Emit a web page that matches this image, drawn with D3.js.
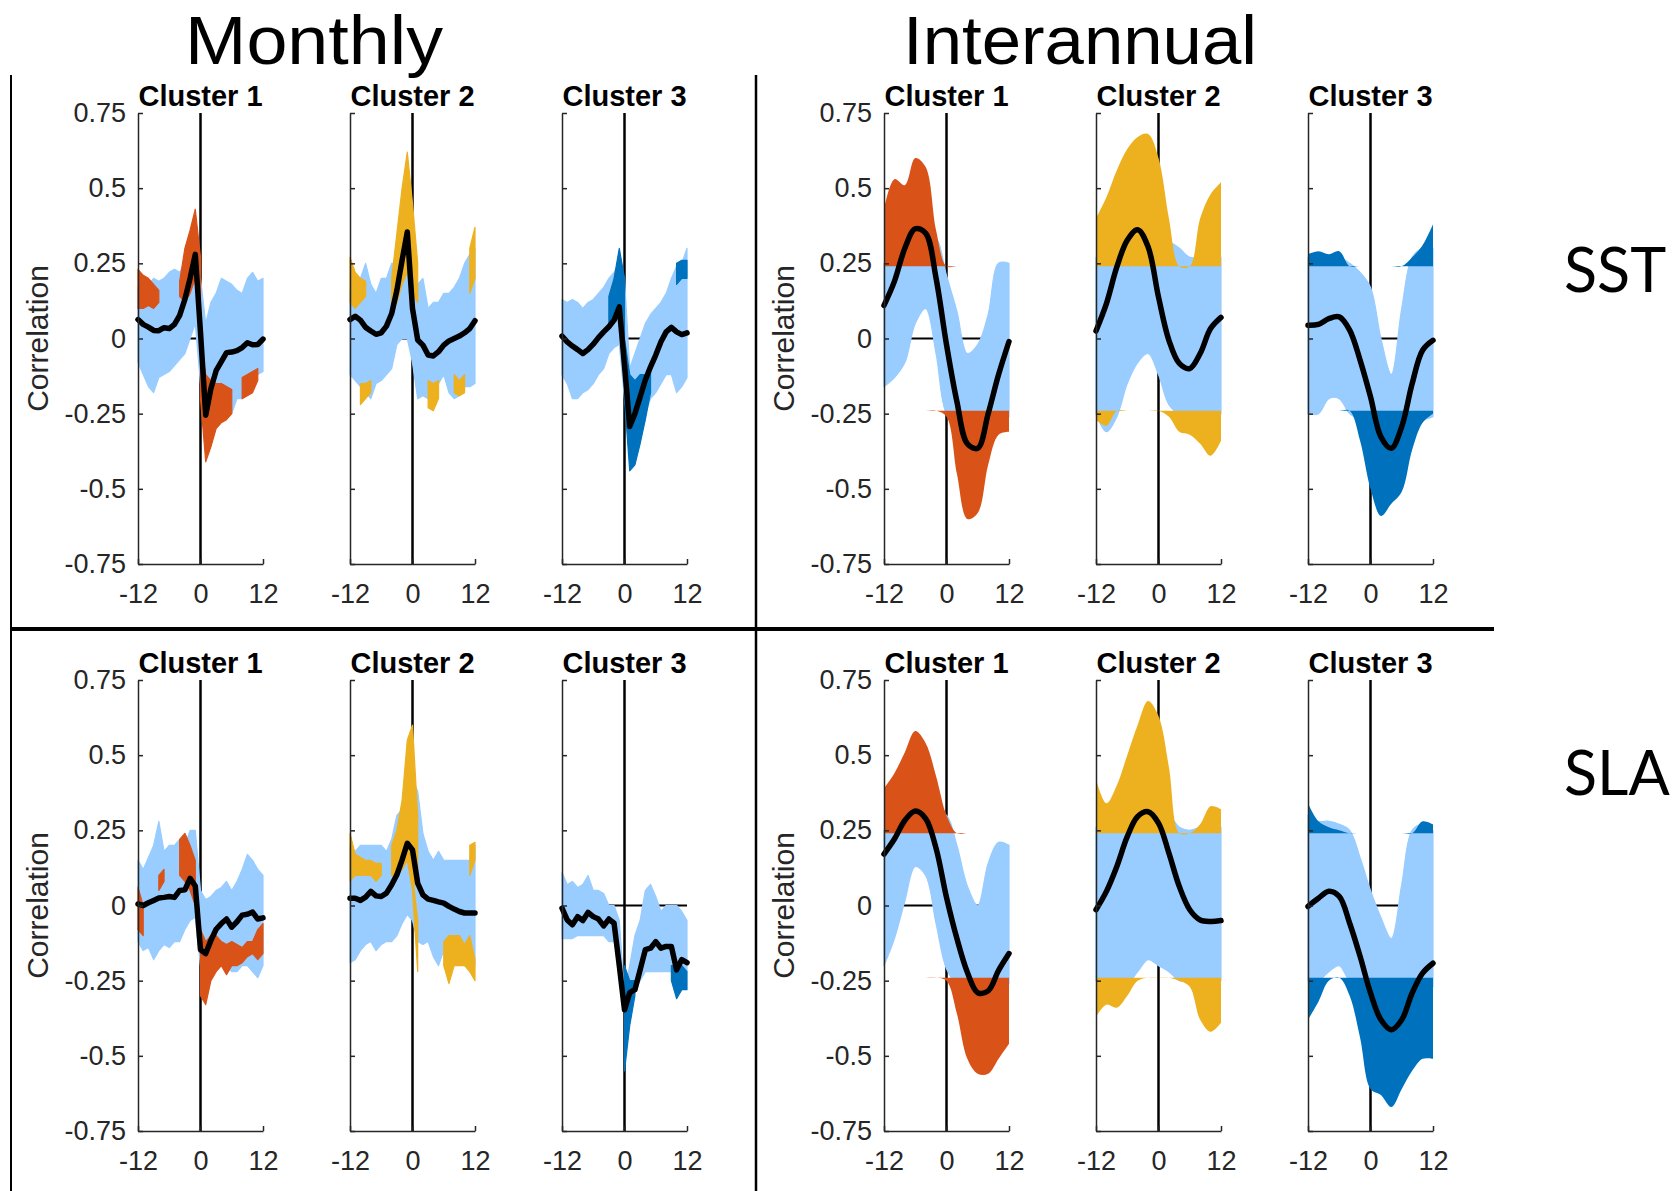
<!DOCTYPE html>
<html>
<head>
<meta charset="utf-8">
<script src="https://cdn.jsdelivr.net/npm/d3@7"></script>
<style>
  body { margin: 0; background: #fff; }
  svg { display: block; }
</style>
</head>
<body>
<svg id="fig" width="1677" height="1191"></svg>
<script>
// ---- axis values / labels ----
const lagsMonthly = [-12,-11,-10,-9,-8,-7,-6,-5,-4,-3,-2,-1,0,1,2,3,4,5,6,7,8,9,10,11,12];
const lagsInter = [-12,-10,-8,-6,-4,-2,0,2,4,6,8,10,12];
const yTicks = [-0.75,-0.5,-0.25,0,0.25,0.5,0.75];
const xTicks = [-12,0,12];
const clusterNames = ["Cluster 1","Cluster 2","Cluster 3"];
const columnTitles = ["Monthly","Interannual"];
const rowNames = ["SST","SLA"];
const clusterColors = ["#D95319","#EDB120","#0072BD"];
const otherColor = "#99CCFF";

// significance bounds used by the interannual panels
const interSigHi = [0.24,0.24,0.24,0.24,0.24,0.24,0.24,0.24,0.24,0.24,0.24,0.24,0.24];
const interSigLo = [-0.24,-0.24,-0.24,-0.24,-0.24,-0.24,-0.24,-0.24,-0.24,-0.24,-0.24,-0.24,-0.24];

// ---- Monthly SST ----
const mSst1Mean = [0.063,0.047,0.038,0.027,0.026,0.036,0.033,0.047,0.077,0.13,0.2,0.28,0.02,-0.255,-0.166,-0.107,-0.077,-0.047,-0.045,-0.04,-0.03,-0.014,-0.021,-0.02,-0.002];
const mSst1BlueHi = [0.17,0.19,0.18,0.2,0.19,0.2,0.22,0.23,0.22,0.25,0.27,0.3,0.2,0.05,0.12,0.15,0.2,0.19,0.18,0.16,0.15,0.2,0.22,0.19,0.2];
const mSst1BlueLo = [-0.08,-0.12,-0.16,-0.18,-0.13,-0.12,-0.11,-0.09,-0.07,-0.05,0.0,0.05,-0.15,-0.28,-0.27,-0.23,-0.21,-0.22,-0.25,-0.2,-0.2,-0.17,-0.14,-0.12,-0.11];
const mSst1PosHi = [0.23,0.21,0.2,0.18,0.16,null,null,null,0.19,0.3,0.36,0.43,0.27,null,null,null,null,null,null,null,null,null,null,null,null];
const mSst1PosLo = [0.1,0.1,0.11,0.1,0.12,null,null,null,0.14,0.12,0.15,0.2,0.0,null,null,null,null,null,null,null,null,null,null,null,null];
const mSst1NegHi = [null,null,null,null,null,null,null,null,null,null,null,null,0.0,-0.12,-0.14,-0.15,-0.15,-0.16,-0.17,null,-0.13,-0.12,-0.11,-0.1,null];
const mSst1NegLo = [null,null,null,null,null,null,null,null,null,null,null,null,-0.2,-0.41,-0.36,-0.3,-0.28,-0.27,-0.25,null,-0.2,-0.19,-0.18,-0.14,null];

const mSst2Mean = [0.063,0.074,0.061,0.037,0.025,0.014,0.019,0.041,0.083,0.16,0.26,0.354,0.1,-0.005,-0.022,-0.055,-0.058,-0.044,-0.022,-0.008,0.0,0.008,0.019,0.033,0.059];
const mSst2BlueHi = [0.16,0.18,0.2,0.25,0.18,0.15,0.2,0.2,0.25,0.25,0.28,0.3,0.22,0.18,0.2,0.1,0.12,0.12,0.15,0.15,0.17,0.2,0.25,0.28,0.3];
const mSst2BlueLo = [-0.12,-0.14,-0.16,-0.18,-0.2,-0.15,-0.14,-0.12,-0.1,-0.02,0.0,0.0,-0.08,-0.2,-0.19,-0.2,-0.19,-0.15,-0.12,-0.18,-0.2,-0.19,-0.16,-0.16,-0.15];
const mSst2PosHi = [0.27,0.22,0.2,0.19,null,null,null,null,0.2,0.35,0.5,0.62,0.45,0.25,null,null,null,null,null,null,null,null,null,0.3,0.37];
const mSst2PosLo = [0.12,0.1,0.12,0.14,null,null,null,null,0.1,0.12,0.18,0.22,0.15,0.12,null,null,null,null,null,null,null,null,null,0.15,0.2];
const mSst2NegHi = [null,null,-0.15,-0.15,-0.14,null,null,null,null,null,null,null,null,null,null,-0.14,-0.15,-0.14,null,null,-0.12,-0.14,-0.12,null,null];
const mSst2NegLo = [null,null,-0.22,-0.2,-0.18,null,null,null,null,null,null,null,null,null,null,-0.23,-0.24,-0.2,null,null,-0.18,-0.19,-0.18,null,null];

const mSst3Mean = [0.008,-0.011,-0.025,-0.037,-0.05,-0.037,-0.019,0.003,0.022,0.039,0.061,0.105,-0.09,-0.293,-0.25,-0.194,-0.138,-0.094,-0.055,-0.011,0.022,0.037,0.022,0.013,0.019];
const mSst3BlueHi = [0.13,0.12,0.13,0.12,0.1,0.12,0.13,0.15,0.17,0.2,0.22,0.25,0.2,-0.1,-0.05,0.0,0.05,0.08,0.1,0.12,0.15,0.2,0.24,0.25,0.3];
const mSst3BlueLo = [-0.12,-0.15,-0.2,-0.2,-0.18,-0.17,-0.15,-0.12,-0.1,-0.05,-0.03,-0.02,-0.2,-0.3,-0.35,-0.3,-0.25,-0.2,-0.18,-0.15,-0.12,-0.12,-0.18,-0.16,-0.13];
const mSst3PosHi = [null,null,null,null,null,null,null,null,null,0.14,0.2,0.3,0.2,null,null,null,null,null,null,null,null,null,0.25,0.26,0.26];
const mSst3PosLo = [null,null,null,null,null,null,null,null,null,0.05,0.07,0.1,0.0,null,null,null,null,null,null,null,null,null,0.18,0.2,0.2];
const mSst3NegHi = [null,null,null,null,null,null,null,null,null,null,null,null,0.0,-0.12,-0.14,-0.12,-0.12,-0.1,null,null,null,null,null,null,null];
const mSst3NegLo = [null,null,null,null,null,null,null,null,null,null,null,null,-0.2,-0.44,-0.42,-0.35,-0.27,-0.18,null,null,null,null,null,null,null];

// ---- Monthly SLA ----
const mSla1Mean = [0.005,0.0,0.009,0.017,0.025,0.027,0.03,0.027,0.05,0.052,0.09,0.065,-0.147,-0.16,-0.116,-0.079,-0.06,-0.045,-0.072,-0.054,-0.032,-0.029,-0.022,-0.045,-0.041];
const mSla1BlueHi = [0.15,0.12,0.16,0.2,0.28,0.18,0.2,0.2,0.22,0.2,0.25,0.25,0.05,0.02,0.03,0.05,0.06,0.08,0.05,0.08,0.12,0.17,0.15,0.12,0.1];
const mSla1BlueLo = [-0.12,-0.15,-0.14,-0.18,-0.15,-0.13,-0.14,-0.12,-0.12,-0.08,-0.05,-0.04,-0.2,-0.22,-0.2,-0.2,-0.2,-0.2,-0.22,-0.22,-0.2,-0.2,-0.22,-0.24,-0.2];
const mSla1PosHi = [0.06,0.0,null,null,0.1,0.12,null,null,0.22,0.24,0.2,0.15,null,null,null,null,null,null,null,null,null,null,null,null,null];
const mSla1PosLo = [-0.08,-0.1,null,null,0.05,0.08,null,null,0.1,0.08,0.05,0.0,null,null,null,null,null,null,null,null,null,null,null,null,null];
const mSla1NegHi = [null,null,null,null,null,null,null,null,null,null,null,null,-0.08,-0.12,-0.1,-0.1,-0.12,-0.13,-0.12,-0.13,-0.14,-0.12,-0.12,-0.08,-0.06];
const mSla1NegLo = [null,null,null,null,null,null,null,null,null,null,null,null,-0.3,-0.33,-0.25,-0.22,-0.2,-0.23,-0.2,-0.2,-0.19,-0.17,-0.16,-0.18,-0.16];

const mSla2Mean = [0.024,0.024,0.017,0.028,0.047,0.032,0.03,0.041,0.069,0.102,0.152,0.207,0.185,0.074,0.035,0.021,0.017,0.012,0.008,-0.003,-0.012,-0.02,-0.025,-0.025,-0.025];
const mSla2BlueHi = [0.2,0.18,0.2,0.2,0.2,0.2,0.2,0.18,0.22,0.3,0.32,0.4,0.42,0.38,0.24,0.18,0.15,0.18,0.15,0.15,0.15,0.15,0.15,0.15,0.2];
const mSla2BlueLo = [-0.19,-0.18,-0.15,-0.13,-0.12,-0.15,-0.13,-0.12,-0.12,-0.1,-0.06,-0.03,-0.05,-0.12,-0.13,-0.12,-0.17,-0.2,-0.15,-0.17,-0.15,-0.18,-0.2,-0.2,-0.2];
const mSla2PosHi = [0.24,0.17,0.16,0.15,0.15,0.14,0.14,null,0.2,0.25,0.35,0.55,0.6,0.3,null,null,null,null,null,null,null,null,null,0.2,0.21];
const mSla2PosLo = [0.08,0.1,0.1,0.1,0.1,0.08,0.1,null,0.1,0.1,0.12,0.15,0.05,0.1,null,null,null,null,null,null,null,null,null,0.1,0.15];
const mSla2NegHi = [null,null,null,null,null,null,null,null,null,null,null,null,0.1,-0.05,null,null,null,null,-0.12,-0.1,-0.1,-0.1,-0.13,-0.1,-0.18];
const mSla2NegLo = [null,null,null,null,null,null,null,null,null,null,null,null,0.05,-0.22,null,null,null,null,-0.2,-0.26,-0.2,-0.2,-0.2,-0.22,-0.25];

const mSla3Mean = [-0.009,-0.048,-0.064,-0.037,-0.05,-0.023,-0.037,-0.045,-0.068,-0.045,-0.059,-0.2,-0.347,-0.29,-0.28,-0.214,-0.147,-0.142,-0.12,-0.142,-0.136,-0.136,-0.214,-0.18,-0.19];
const mSla3BlueHi = [0.11,0.07,0.08,0.06,0.07,0.1,0.05,0.05,0.04,0.0,0.0,-0.05,-0.3,-0.2,-0.1,-0.05,0.05,0.07,0.03,-0.02,0.0,0.0,0.0,-0.02,-0.05];
const mSla3BlueLo = [-0.11,-0.11,-0.11,-0.1,-0.1,-0.1,-0.1,-0.1,-0.1,-0.12,-0.12,-0.2,-0.35,-0.3,-0.28,-0.25,-0.22,-0.22,-0.22,-0.22,-0.22,-0.22,-0.25,-0.22,-0.22];
const mSla3NegHi = [null,null,null,null,null,null,null,null,null,null,null,null,-0.2,-0.25,-0.25,null,null,null,null,null,null,-0.2,-0.2,-0.2,-0.22];
const mSla3NegLo = [null,null,null,null,null,null,null,null,null,null,null,null,-0.55,-0.4,-0.3,null,null,null,null,null,null,-0.25,-0.31,-0.28,-0.28];

// ---- Interannual SST ----
const iSst1Mean = [0.11,0.19,0.30,0.365,0.35,0.2,-0.02,-0.21,-0.35,-0.365,-0.25,-0.12,-0.01];
const iSst1BlueHi = [0.25,0.26,0.26,0.26,0.27,0.33,0.21,0.09,-0.05,-0.02,0.08,0.25,0.25];
const iSst1BlueLo = [-0.16,-0.13,-0.08,0.05,0.1,-0.05,-0.25,-0.28,-0.28,-0.28,-0.27,-0.27,-0.26];
const iSst1PosHi = [0.43,0.53,0.51,0.6,0.57,0.36,0.24,0.24,0.24,0.24,0.24,0.24,0.24];
const iSst1NegLo = [-0.24,-0.24,-0.24,-0.24,-0.24,-0.24,-0.26,-0.45,-0.6,-0.58,-0.42,-0.32,-0.31];

const iSst2Mean = [0.025,0.116,0.238,0.327,0.362,0.305,0.138,-0.006,-0.083,-0.1,-0.05,0.033,0.07];
const iSst2BlueHi = [0.27,0.27,0.27,0.27,0.28,0.28,0.3,0.32,0.3,0.27,0.27,0.27,0.27];
const iSst2BlueLo = [-0.25,-0.31,-0.26,-0.15,-0.08,-0.05,-0.12,-0.22,-0.25,-0.25,-0.25,-0.25,-0.25];
const iSst2PosHi = [0.4,0.47,0.56,0.63,0.67,0.68,0.6,0.4,0.24,0.24,0.4,0.48,0.52];
const iSst2NegLo = [-0.27,-0.29,-0.24,-0.24,-0.24,-0.24,-0.24,-0.26,-0.31,-0.32,-0.35,-0.39,-0.34];

const iSst3Mean = [0.044,0.047,0.066,0.072,0.028,-0.072,-0.194,-0.327,-0.365,-0.293,-0.15,-0.039,-0.006];
const iSst3BlueHi = [0.27,0.27,0.27,0.27,0.25,0.22,0.17,0.0,-0.12,0.1,0.27,0.3,0.3];
const iSst3BlueLo = [-0.25,-0.25,-0.2,-0.2,-0.25,-0.27,-0.28,-0.28,-0.28,-0.28,-0.27,-0.27,-0.26];
const iSst3PosHi = [0.28,0.29,0.28,0.29,0.24,0.24,0.24,0.24,0.24,0.24,0.27,0.31,0.38];
const iSst3NegLo = [-0.24,-0.24,-0.24,-0.24,-0.24,-0.34,-0.5,-0.59,-0.55,-0.51,-0.37,-0.28,-0.25];

// ---- Interannual SLA ----
const iSla1Mean = [0.171,0.221,0.283,0.314,0.289,0.19,0.027,-0.11,-0.222,-0.29,-0.284,-0.216,-0.16];
const iSla1BlueHi = [0.25,0.27,0.26,0.26,0.3,0.31,0.3,0.2,0.065,0.0,0.14,0.21,0.2];
const iSla1BlueLo = [-0.2,-0.11,0.015,0.13,0.1,-0.06,-0.21,-0.26,-0.27,-0.27,-0.27,-0.27,-0.26];
const iSla1PosHi = [0.39,0.44,0.51,0.58,0.54,0.43,0.3,0.24,0.24,0.24,0.24,0.24,0.24];
const iSla1NegLo = [-0.24,-0.24,-0.24,-0.24,-0.24,-0.24,-0.25,-0.36,-0.51,-0.56,-0.56,-0.51,-0.46];

const iSla2Mean = [-0.014,0.047,0.13,0.229,0.296,0.312,0.274,0.174,0.063,-0.014,-0.048,-0.053,-0.05];
const iSla2BlueHi = [0.26,0.26,0.26,0.26,0.26,0.26,0.3,0.3,0.26,0.25,0.26,0.26,0.26];
const iSla2BlueLo = [-0.25,-0.26,-0.26,-0.26,-0.22,-0.18,-0.2,-0.22,-0.25,-0.25,-0.25,-0.25,-0.25];
const iSla2PosHi = [0.42,0.34,0.4,0.5,0.6,0.68,0.63,0.46,0.24,0.24,0.27,0.33,0.32];
const iSla2NegLo = [-0.37,-0.33,-0.34,-0.3,-0.25,-0.24,-0.24,-0.24,-0.25,-0.27,-0.38,-0.42,-0.39];

const iSla3Mean = [-0.003,0.024,0.047,0.03,-0.059,-0.169,-0.291,-0.38,-0.413,-0.38,-0.291,-0.225,-0.192];
const iSla3BlueHi = [0.3,0.28,0.28,0.27,0.25,0.16,0.05,-0.04,-0.11,0.07,0.25,0.27,0.25];
const iSla3BlueLo = [-0.25,-0.25,-0.22,-0.2,-0.25,-0.26,-0.27,-0.27,-0.27,-0.27,-0.27,-0.27,-0.27];
const iSla3PosHi = [0.34,0.28,0.26,0.25,0.24,0.24,0.24,0.24,0.24,0.24,0.24,0.28,0.27];
const iSla3NegLo = [-0.38,-0.32,-0.25,-0.24,-0.3,-0.44,-0.61,-0.63,-0.67,-0.61,-0.55,-0.51,-0.51];

// table of panels built from the arrays above
const panels = [
  {row:0, col:0, k:0, lags:lagsMonthly, mean:mSst1Mean, blue:[mSst1BlueLo,mSst1BlueHi], bands:[[mSst1PosLo,mSst1PosHi],[mSst1NegLo,mSst1NegHi]]},
  {row:0, col:0, k:1, lags:lagsMonthly, mean:mSst2Mean, blue:[mSst2BlueLo,mSst2BlueHi], bands:[[mSst2PosLo,mSst2PosHi],[mSst2NegLo,mSst2NegHi]]},
  {row:0, col:0, k:2, lags:lagsMonthly, mean:mSst3Mean, blue:[mSst3BlueLo,mSst3BlueHi], bands:[[mSst3PosLo,mSst3PosHi],[mSst3NegLo,mSst3NegHi]]},
  {row:0, col:1, k:0, lags:lagsInter, mean:iSst1Mean, blue:[iSst1BlueLo,iSst1BlueHi], bands:[[interSigHi,iSst1PosHi],[iSst1NegLo,interSigLo]]},
  {row:0, col:1, k:1, lags:lagsInter, mean:iSst2Mean, blue:[iSst2BlueLo,iSst2BlueHi], bands:[[interSigHi,iSst2PosHi],[iSst2NegLo,interSigLo]]},
  {row:0, col:1, k:2, lags:lagsInter, mean:iSst3Mean, blue:[iSst3BlueLo,iSst3BlueHi], bands:[[interSigHi,iSst3PosHi],[iSst3NegLo,interSigLo]]},
  {row:1, col:0, k:0, lags:lagsMonthly, mean:mSla1Mean, blue:[mSla1BlueLo,mSla1BlueHi], bands:[[mSla1PosLo,mSla1PosHi],[mSla1NegLo,mSla1NegHi]]},
  {row:1, col:0, k:1, lags:lagsMonthly, mean:mSla2Mean, blue:[mSla2BlueLo,mSla2BlueHi], bands:[[mSla2PosLo,mSla2PosHi],[mSla2NegLo,mSla2NegHi]]},
  {row:1, col:0, k:2, lags:lagsMonthly, mean:mSla3Mean, blue:[mSla3BlueLo,mSla3BlueHi], bands:[[mSla3NegLo,mSla3NegHi]]},
  {row:1, col:1, k:0, lags:lagsInter, mean:iSla1Mean, blue:[iSla1BlueLo,iSla1BlueHi], bands:[[interSigHi,iSla1PosHi],[iSla1NegLo,interSigLo]]},
  {row:1, col:1, k:1, lags:lagsInter, mean:iSla2Mean, blue:[iSla2BlueLo,iSla2BlueHi], bands:[[interSigHi,iSla2PosHi],[iSla2NegLo,interSigLo]]},
  {row:1, col:1, k:2, lags:lagsInter, mean:iSla3Mean, blue:[iSla3BlueLo,iSla3BlueHi], bands:[[interSigHi,iSla3PosHi],[iSla3NegLo,interSigLo]]}
];

const svg = d3.select("#fig");

// layout
const panelW = 125, panelH = 451;
const colLeft = [138, 884];
const clusterStep = 212;
const rowTop = [113, 680];
const axisColor = "#262626";
const tickFont = "'Liberation Sans', Arial, Helvetica, sans-serif";

const tickFmt = d => String(d); // keeps plain hyphen minus like matlab

panels.forEach(p => {
  const left = colLeft[p.col] + p.k * clusterStep;
  const top = rowTop[p.row];
  const g = svg.append("g").attr("transform", `translate(${left},${top})`);

  const x = d3.scaleLinear().domain([-12, 12]).range([0, panelW]);
  const y = d3.scaleLinear().domain([-0.75, 0.75]).range([panelH, 0]);
  const smooth = p.col === 1;
  const curve = smooth ? d3.curveCatmullRom.alpha(0.5) : d3.curveLinear;

  // zero reference lines sit under the data
  g.append("line")
    .attr("x1", x(-12)).attr("x2", x(12))
    .attr("y1", y(0)).attr("y2", y(0))
    .attr("stroke", "#000").attr("stroke-width", 2);
  g.append("line")
    .attr("x1", x(0)).attr("x2", x(0))
    .attr("y1", y(-0.75)).attr("y2", y(0.75))
    .attr("stroke", "#000").attr("stroke-width", 2.5);

  const band = (lo, hi) => d3.area()
    .defined((d, i) => lo[i] != null && hi[i] != null)
    .x(d => x(d))
    .y0((d, i) => y(lo[i]))
    .y1((d, i) => y(hi[i]))
    .curve(curve)(p.lags);

  // bundle of the other members
  g.append("path")
    .attr("d", band(p.blue[0], p.blue[1]))
    .attr("fill", otherColor)
    .attr("stroke", otherColor).attr("stroke-width", 1.2)
    .attr("stroke-linejoin", "round");

  // members of this cluster (no outline on the smooth panels, the bands touch the threshold)
  p.bands.forEach(b => {
    g.append("path")
      .attr("d", band(b[0], b[1]))
      .attr("fill", clusterColors[p.k])
      .attr("stroke", smooth ? "none" : clusterColors[p.k]).attr("stroke-width", 1.2)
      .attr("stroke-linejoin", "round");
  });

  // cluster mean
  g.append("path")
    .datum(p.mean)
    .attr("d", d3.line().x((d, i) => x(p.lags[i])).y(d => y(d)).curve(curve))
    .attr("fill", "none")
    .attr("stroke", "#000").attr("stroke-width", 5.5)
    .attr("stroke-linejoin", "round").attr("stroke-linecap", "round");

  // axes
  const yAxis = d3.axisLeft(y).tickValues(yTicks)
    .tickSizeInner(-5).tickSizeOuter(0).tickPadding(12)
    .tickFormat(p.k === 0 ? tickFmt : () => "");
  const xAxis = d3.axisBottom(x).tickValues(xTicks)
    .tickSizeInner(-5).tickSizeOuter(0).tickPadding(20)
    .tickFormat(tickFmt);

  const ya = g.append("g").call(yAxis);
  const xa = g.append("g").attr("transform", `translate(0,${panelH})`).call(xAxis);
  [ya, xa].forEach(a => {
    a.attr("font-family", tickFont).attr("font-size", 27);
    a.select(".domain").attr("stroke", axisColor).attr("stroke-width", 1.5);
    a.selectAll(".tick line").attr("stroke", axisColor).attr("stroke-width", 1.5);
    a.selectAll(".tick text").attr("fill", axisColor);
  });

  // panel title
  g.append("text")
    .attr("x", panelW / 2).attr("y", -7)
    .attr("text-anchor", "middle")
    .attr("font-family", tickFont).attr("font-weight", "bold").attr("font-size", 29)
    .attr("fill", "#000")
    .text(clusterNames[p.k]);

  if (p.k === 0) {
    g.append("text")
      .attr("transform", `translate(-101,${panelH / 2}) rotate(-90)`)
      .attr("text-anchor", "middle").attr("dy", "0.35em")
      .attr("font-family", tickFont).attr("font-size", 30)
      .attr("fill", axisColor)
      .text("Correlation");
  }
});

// column titles and row labels
const titleFont = "'Liberation Sans', Arial, sans-serif";
const bigFont = "Lato, 'Open Sans', sans-serif";
svg.append("text").attr("x", 314).attr("y", 64).attr("text-anchor", "middle")
  .attr("font-family", titleFont).attr("font-size", 69).attr("fill", "#000")
  .attr("textLength", 258).attr("lengthAdjust", "spacingAndGlyphs")
  .text(columnTitles[0]);
svg.append("text").attr("x", 1080).attr("y", 64).attr("text-anchor", "middle")
  .attr("font-family", titleFont).attr("font-size", 69).attr("fill", "#000")
  .attr("textLength", 354).attr("lengthAdjust", "spacingAndGlyphs")
  .text(columnTitles[1]);
svg.append("text").attr("x", 1564).attr("y", 292)
  .attr("font-family", bigFont).attr("font-size", 61).attr("fill", "#000").text(rowNames[0]);
svg.append("text").attr("x", 1564).attr("y", 795)
  .attr("font-family", bigFont).attr("font-size", 61).attr("fill", "#000").text(rowNames[1]);

// frame lines between the blocks
svg.append("line").attr("x1", 11).attr("x2", 11).attr("y1", 75).attr("y2", 1191)
  .attr("stroke", "#000").attr("stroke-width", 2);
svg.append("line").attr("x1", 756).attr("x2", 756).attr("y1", 75).attr("y2", 1191)
  .attr("stroke", "#000").attr("stroke-width", 2.5);
svg.append("line").attr("x1", 11).attr("x2", 1494).attr("y1", 629).attr("y2", 629)
  .attr("stroke", "#000").attr("stroke-width", 4);
</script>
</body>
</html>
